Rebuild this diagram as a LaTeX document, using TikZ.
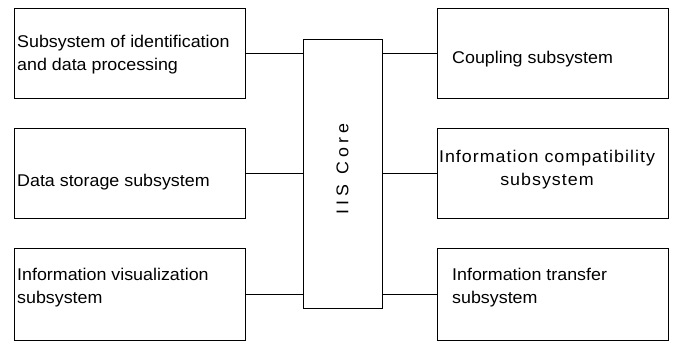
\documentclass[tikz,border=0pt]{standalone}
\usepackage{fontspec}
\setmainfont{Liberation Sans}[FakeStretch=1.05]
\begin{document}
\begin{tikzpicture}[x=1pt,y=-1pt,
  blk/.style={draw,line width=0.8pt,minimum width=231pt,minimum height=90pt,inner sep=0pt},
  lbl/.style={font=\fontsize{17}{23}\selectfont,anchor=west,align=left,inner sep=0pt},
  link/.style={line width=0.8pt}]
\useasboundingbox (0,0) rectangle (674,343);
% left boxes
\node[blk] (L1) at (129.5,53) {};
\node[blk] (L2) at (129.5,173) {};
\node[blk,minimum height=92pt] (L3) at (129.5,294) {};
% right boxes
\node[blk] (R1) at (552.5,53) {};
\node[blk] (R2) at (552.5,173) {};
\node[blk,minimum height=92pt] (R3) at (552.5,294) {};
% core
\node[draw,line width=0.8pt,minimum width=79pt,minimum height=269pt,inner sep=0pt] (C) at (342.5,173.5) {};
\node[rotate=90,inner sep=0pt,font=\fontsize{17}{17}\selectfont\addfontfeature{LetterSpace=25}] (CT) at (342.5,169) {IIS Core};
% labels
\node[lbl] (t1) at (17,55) {Subsystem of identification\\and data processing};
\node[lbl] (t2) at (17,182) {Data storage subsystem};
\node[lbl] (t3) at (17,288) {Information visualization\\subsystem};
\node[lbl] (t4) at (452,59) {Coupling subsystem};
\node[align=center,inner sep=0pt,font=\fontsize{17}{23}\selectfont\addfontfeature{LetterSpace=6}] (t5) at (547,170) {Information compatibility\\subsystem};
\node[lbl] (t6) at (452,288) {Information transfer\\subsystem};
% connectors
\draw[link] (L1.east) -- (L1.east -| C.west);
\draw[link] (L2.east) -- (L2.east -| C.west);
\draw[link] (L3.east) -- (L3.east -| C.west);
\draw[link] (R1.west) -- (R1.west -| C.east);
\draw[link] (R2.west) -- (R2.west -| C.east);
\draw[link] (R3.west) -- (R3.west -| C.east);
\end{tikzpicture}
\end{document}
